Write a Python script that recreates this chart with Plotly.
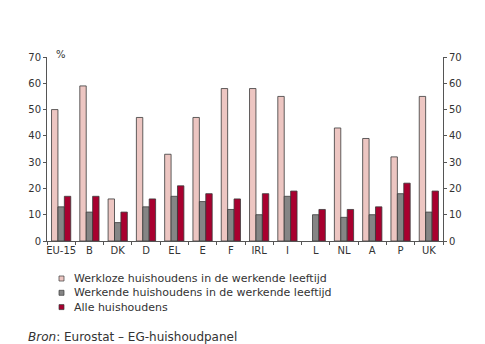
import plotly.graph_objects as go

# Lidstaten en aandelen (%) per type huishouden
landen = ["EU-15", "B", "DK", "D", "EL", "E", "F", "IRL", "I", "L", "NL", "A", "P", "UK"]
werkloos = [50, 59, 16, 47, 33, 47, 58, 58, 55, None, 43, 39, 32, 55]
werkend = [13, 11, 7, 13, 17, 15, 12, 10, 17, 10, 9, 10, 18, 11]
alle = [17, 17, 11, 16, 21, 18, 16, 18, 19, 12, 12, 13, 22, 19]

reeksen = [
    ("Werkloze huishoudens in de werkende leeftijd", werkloos, "#EDC6C2"),
    ("Werkende huishoudens in de werkende leeftijd", werkend, "#858585"),
    ("Alle huishoudens", alle, "#A8002F"),
]
y_ticks = [0, 10, 20, 30, 40, 50, 60, 70]

FONT = "DejaVu Sans"
SMAL = "Liberation Sans Narrow, " + FONT
TXT = "#333333"

# plotgebied in pixels
L, R, T, B = 47, 443, 57, 241
PW, PH = R - L, B - T


def px(x):
    return (x - L) / PW


def py(y):
    return (B - y) / PH


fig = go.Figure()
for naam, waarden, kleur in reeksen:
    fig.add_trace(go.Bar(
        x=landen, y=waarden, name=naam,
        marker=dict(color=kleur, line=dict(color="#3a3a3a", width=0.8)),
        showlegend=False,
    ))
# onzichtbare trace om de rechteras te tonen
fig.add_trace(go.Scatter(x=[landen[0]], y=[0], yaxis="y2", mode="markers",
                         marker=dict(opacity=0), showlegend=False, hoverinfo="skip"))

as_stijl = dict(range=[0, 70], tickvals=y_ticks, showgrid=False, zeroline=False,
                showline=True, linecolor="#555555", linewidth=1,
                ticks="outside", ticklen=3, tickcolor="#555555",
                tickfont=dict(family=SMAL, size=10, color=TXT))

fig.update_layout(
    width=485, height=344,
    margin=dict(l=L, r=485 - R, t=T, b=344 - B),
    paper_bgcolor="white", plot_bgcolor="white",
    barmode="group", bargap=0.32, bargroupgap=0,
    xaxis=dict(range=[-0.5, 13.5], showgrid=False, showline=True, linecolor="#555555",
               linewidth=1, ticks="outside", ticklen=3, tickcolor="#555555",
               tickson="boundaries", tickangle=0,
               tickfont=dict(family=SMAL, size=10, color=TXT)),
    yaxis=dict(**as_stijl),
    yaxis2=dict(**as_stijl, overlaying="y", side="right"),
)

fig.add_annotation(text="%", xref="paper", yref="paper", x=px(54), y=py(54),
                   xanchor="left", yanchor="middle", showarrow=False,
                   font=dict(family=FONT, size=10, color=TXT))

# legenda onder de grafiek: één tekstblok, met een vierkantje per regel
grootte = 11
regel = grootte * 1.3
eerste = 279
for i, (naam, _, kleur) in enumerate(reeksen):
    ym = eerste + i * regel
    fig.add_shape(type="rect", xref="paper", yref="paper",
                  x0=px(59), x1=px(64), y0=py(ym - 3), y1=py(ym + 2),
                  fillcolor=kleur, line=dict(color="#3a3a3a", width=0.7))
fig.add_annotation(text="<br>".join(n for n, _, _ in reeksen), xref="paper", yref="paper",
                   x=px(73), y=py(eerste - regel / 2 - 1), xanchor="left", yanchor="top",
                   align="left", borderpad=0, showarrow=False,
                   font=dict(family=FONT, size=grootte, color=TXT))

fig.add_annotation(text="<i>Bron</i>: Eurostat – EG-huishoudpanel", xref="paper", yref="paper",
                   x=px(27), y=py(345), xanchor="left", yanchor="bottom", borderpad=0,
                   showarrow=False, font=dict(family=FONT, size=12, color=TXT))

fig.write_html("out.html")
